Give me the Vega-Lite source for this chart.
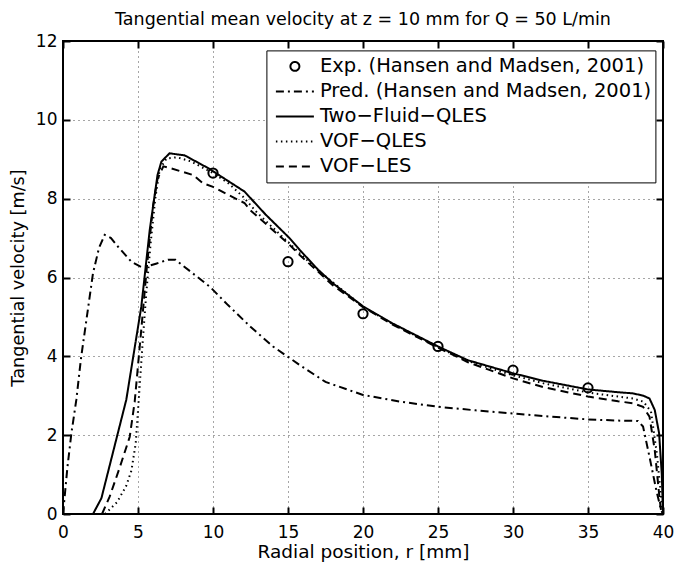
{
  "$schema": "https://vega.github.io/schema/vega-lite/v6.json",
  "width": 600,
  "height": 473,
  "autosize": {"type": "none"},
  "padding": {"left": 63, "top": 41, "right": 15, "bottom": 54},
  "background": "white",
  "config": {
    "font": "DejaVu Sans",
    "view": {"stroke": "black", "strokeWidth": 2},
    "axis": {"labelColor": "black", "titleColor": "black", "labelFont": "DejaVu Sans", "titleFont": "DejaVu Sans", "titleFontWeight": "normal", "ticks": true}
  },
  "title": {
    "text": "Tangential mean velocity at z = 10 mm for Q = 50 L/min",
    "fontSize": 17.5,
    "fontWeight": "normal",
    "color": "black",
    "anchor": "middle",
    "offset": 4
  },
  "datasets": {
    "curves": [
      {"series": "Pred. (Hansen and Madsen, 2001)", "r": 0, "v": 0},
      {"series": "Pred. (Hansen and Madsen, 2001)", "r": 0.15, "v": 0.6},
      {"series": "Pred. (Hansen and Madsen, 2001)", "r": 0.3, "v": 1.2},
      {"series": "Pred. (Hansen and Madsen, 2001)", "r": 0.56, "v": 2.05},
      {"series": "Pred. (Hansen and Madsen, 2001)", "r": 0.89, "v": 2.9},
      {"series": "Pred. (Hansen and Madsen, 2001)", "r": 1.2, "v": 3.95},
      {"series": "Pred. (Hansen and Madsen, 2001)", "r": 1.56, "v": 4.92},
      {"series": "Pred. (Hansen and Madsen, 2001)", "r": 2.0, "v": 6.11},
      {"series": "Pred. (Hansen and Madsen, 2001)", "r": 2.4, "v": 6.75},
      {"series": "Pred. (Hansen and Madsen, 2001)", "r": 2.78, "v": 7.08},
      {"series": "Pred. (Hansen and Madsen, 2001)", "r": 3.2, "v": 7.0},
      {"series": "Pred. (Hansen and Madsen, 2001)", "r": 3.67, "v": 6.78},
      {"series": "Pred. (Hansen and Madsen, 2001)", "r": 4.56, "v": 6.4},
      {"series": "Pred. (Hansen and Madsen, 2001)", "r": 5.2, "v": 6.27},
      {"series": "Pred. (Hansen and Madsen, 2001)", "r": 5.6, "v": 6.28},
      {"series": "Pred. (Hansen and Madsen, 2001)", "r": 6.2, "v": 6.35},
      {"series": "Pred. (Hansen and Madsen, 2001)", "r": 7.0, "v": 6.45},
      {"series": "Pred. (Hansen and Madsen, 2001)", "r": 7.5, "v": 6.45},
      {"series": "Pred. (Hansen and Madsen, 2001)", "r": 8.5, "v": 6.15},
      {"series": "Pred. (Hansen and Madsen, 2001)", "r": 9.78, "v": 5.77},
      {"series": "Pred. (Hansen and Madsen, 2001)", "r": 11, "v": 5.3},
      {"series": "Pred. (Hansen and Madsen, 2001)", "r": 12.5, "v": 4.75},
      {"series": "Pred. (Hansen and Madsen, 2001)", "r": 14, "v": 4.25},
      {"series": "Pred. (Hansen and Madsen, 2001)", "r": 15.78, "v": 3.78},
      {"series": "Pred. (Hansen and Madsen, 2001)", "r": 17.5, "v": 3.35},
      {"series": "Pred. (Hansen and Madsen, 2001)", "r": 20, "v": 3.02},
      {"series": "Pred. (Hansen and Madsen, 2001)", "r": 22.5, "v": 2.85},
      {"series": "Pred. (Hansen and Madsen, 2001)", "r": 25, "v": 2.72},
      {"series": "Pred. (Hansen and Madsen, 2001)", "r": 27.5, "v": 2.63},
      {"series": "Pred. (Hansen and Madsen, 2001)", "r": 30, "v": 2.55},
      {"series": "Pred. (Hansen and Madsen, 2001)", "r": 32.5, "v": 2.47},
      {"series": "Pred. (Hansen and Madsen, 2001)", "r": 35, "v": 2.4},
      {"series": "Pred. (Hansen and Madsen, 2001)", "r": 37, "v": 2.37},
      {"series": "Pred. (Hansen and Madsen, 2001)", "r": 38.33, "v": 2.36},
      {"series": "Pred. (Hansen and Madsen, 2001)", "r": 38.67, "v": 2.22},
      {"series": "Pred. (Hansen and Madsen, 2001)", "r": 39.1, "v": 1.45},
      {"series": "Pred. (Hansen and Madsen, 2001)", "r": 39.55, "v": 0.61},
      {"series": "Pred. (Hansen and Madsen, 2001)", "r": 39.87, "v": 0.1},
      {"series": "Pred. (Hansen and Madsen, 2001)", "r": 40, "v": 0},

      {"series": "Two−Fluid−QLES", "r": 2.0, "v": 0},
      {"series": "Two−Fluid−QLES", "r": 2.56, "v": 0.4},
      {"series": "Two−Fluid−QLES", "r": 4.22, "v": 2.9},
      {"series": "Two−Fluid−QLES", "r": 5.22, "v": 5.26},
      {"series": "Two−Fluid−QLES", "r": 5.78, "v": 7.2},
      {"series": "Two−Fluid−QLES", "r": 6.3, "v": 8.6},
      {"series": "Two−Fluid−QLES", "r": 6.56, "v": 8.94},
      {"series": "Two−Fluid−QLES", "r": 7.1, "v": 9.15},
      {"series": "Two−Fluid−QLES", "r": 8.1, "v": 9.1},
      {"series": "Two−Fluid−QLES", "r": 9.7, "v": 8.77},
      {"series": "Two−Fluid−QLES", "r": 12.1, "v": 8.18},
      {"series": "Two−Fluid−QLES", "r": 13.5, "v": 7.6},
      {"series": "Two−Fluid−QLES", "r": 15.1, "v": 7.0},
      {"series": "Two−Fluid−QLES", "r": 15.78, "v": 6.7},
      {"series": "Two−Fluid−QLES", "r": 17, "v": 6.2},
      {"series": "Two−Fluid−QLES", "r": 18, "v": 5.85},
      {"series": "Two−Fluid−QLES", "r": 20, "v": 5.27},
      {"series": "Two−Fluid−QLES", "r": 22, "v": 4.83},
      {"series": "Two−Fluid−QLES", "r": 25, "v": 4.25},
      {"series": "Two−Fluid−QLES", "r": 27, "v": 3.9},
      {"series": "Two−Fluid−QLES", "r": 30, "v": 3.57},
      {"series": "Two−Fluid−QLES", "r": 32, "v": 3.38},
      {"series": "Two−Fluid−QLES", "r": 35, "v": 3.16},
      {"series": "Two−Fluid−QLES", "r": 37, "v": 3.09},
      {"series": "Two−Fluid−QLES", "r": 38, "v": 3.06},
      {"series": "Two−Fluid−QLES", "r": 38.7, "v": 3.0},
      {"series": "Two−Fluid−QLES", "r": 39.1, "v": 2.93},
      {"series": "Two−Fluid−QLES", "r": 39.45, "v": 2.64},
      {"series": "Two−Fluid−QLES", "r": 39.74, "v": 2.05},
      {"series": "Two−Fluid−QLES", "r": 39.92, "v": 1.0},
      {"series": "Two−Fluid−QLES", "r": 40, "v": 0},

      {"series": "VOF−QLES", "r": 2.8, "v": 0},
      {"series": "VOF−QLES", "r": 3.6, "v": 0.3},
      {"series": "VOF−QLES", "r": 4.2, "v": 0.7},
      {"series": "VOF−QLES", "r": 4.56, "v": 1.1},
      {"series": "VOF−QLES", "r": 4.85, "v": 1.8},
      {"series": "VOF−QLES", "r": 5.05, "v": 2.9},
      {"series": "VOF−QLES", "r": 5.3, "v": 4.3},
      {"series": "VOF−QLES", "r": 5.55, "v": 5.6},
      {"series": "VOF−QLES", "r": 5.85, "v": 6.9},
      {"series": "VOF−QLES", "r": 6.15, "v": 8.0},
      {"series": "VOF−QLES", "r": 6.45, "v": 8.75},
      {"series": "VOF−QLES", "r": 6.9, "v": 9.02},
      {"series": "VOF−QLES", "r": 7.6, "v": 9.05},
      {"series": "VOF−QLES", "r": 8.5, "v": 8.95},
      {"series": "VOF−QLES", "r": 10, "v": 8.65},
      {"series": "VOF−QLES", "r": 11, "v": 8.4},
      {"series": "VOF−QLES", "r": 12, "v": 8.05},
      {"series": "VOF−QLES", "r": 13, "v": 7.62},
      {"series": "VOF−QLES", "r": 15, "v": 6.9},
      {"series": "VOF−QLES", "r": 17, "v": 6.18},
      {"series": "VOF−QLES", "r": 20, "v": 5.26},
      {"series": "VOF−QLES", "r": 22, "v": 4.82},
      {"series": "VOF−QLES", "r": 25, "v": 4.23},
      {"series": "VOF−QLES", "r": 27, "v": 3.88},
      {"series": "VOF−QLES", "r": 30, "v": 3.52},
      {"series": "VOF−QLES", "r": 32, "v": 3.32},
      {"series": "VOF−QLES", "r": 35, "v": 3.08},
      {"series": "VOF−QLES", "r": 37, "v": 2.98},
      {"series": "VOF−QLES", "r": 38, "v": 2.93},
      {"series": "VOF−QLES", "r": 38.7, "v": 2.85},
      {"series": "VOF−QLES", "r": 39.2, "v": 2.6},
      {"series": "VOF−QLES", "r": 39.6, "v": 1.5},
      {"series": "VOF−QLES", "r": 39.9, "v": 0.3},
      {"series": "VOF−QLES", "r": 40, "v": 0},

      {"series": "VOF−LES", "r": 2.6, "v": 0},
      {"series": "VOF−LES", "r": 3.11, "v": 0.44},
      {"series": "VOF−LES", "r": 3.8, "v": 1.2},
      {"series": "VOF−LES", "r": 4.45, "v": 1.96},
      {"series": "VOF−LES", "r": 4.78, "v": 2.85},
      {"series": "VOF−LES", "r": 5.2, "v": 4.6},
      {"series": "VOF−LES", "r": 5.6, "v": 6.3},
      {"series": "VOF−LES", "r": 6.0, "v": 7.8},
      {"series": "VOF−LES", "r": 6.3, "v": 8.5},
      {"series": "VOF−LES", "r": 6.69, "v": 8.82},
      {"series": "VOF−LES", "r": 7.1, "v": 8.78},
      {"series": "VOF−LES", "r": 8.67, "v": 8.6},
      {"series": "VOF−LES", "r": 9.33, "v": 8.39},
      {"series": "VOF−LES", "r": 10, "v": 8.3},
      {"series": "VOF−LES", "r": 11, "v": 8.1},
      {"series": "VOF−LES", "r": 12.1, "v": 7.89},
      {"series": "VOF−LES", "r": 12.45, "v": 7.72},
      {"series": "VOF−LES", "r": 14, "v": 7.2},
      {"series": "VOF−LES", "r": 15.1, "v": 6.83},
      {"series": "VOF−LES", "r": 15.78, "v": 6.57},
      {"series": "VOF−LES", "r": 17, "v": 6.15},
      {"series": "VOF−LES", "r": 18, "v": 5.8},
      {"series": "VOF−LES", "r": 20, "v": 5.25},
      {"series": "VOF−LES", "r": 22, "v": 4.8},
      {"series": "VOF−LES", "r": 25, "v": 4.22},
      {"series": "VOF−LES", "r": 27, "v": 3.85},
      {"series": "VOF−LES", "r": 30, "v": 3.44},
      {"series": "VOF−LES", "r": 32, "v": 3.22},
      {"series": "VOF−LES", "r": 35, "v": 2.98},
      {"series": "VOF−LES", "r": 37, "v": 2.86},
      {"series": "VOF−LES", "r": 38, "v": 2.81},
      {"series": "VOF−LES", "r": 38.67, "v": 2.72},
      {"series": "VOF−LES", "r": 39.1, "v": 2.47},
      {"series": "VOF−LES", "r": 39.45, "v": 1.62},
      {"series": "VOF−LES", "r": 39.78, "v": 0.36},
      {"series": "VOF−LES", "r": 39.9, "v": 0}
    ],
    "exp": [
      {"series": "Exp. (Hansen and Madsen, 2001)", "r": 10, "v": 8.65},
      {"series": "Exp. (Hansen and Madsen, 2001)", "r": 15, "v": 6.4},
      {"series": "Exp. (Hansen and Madsen, 2001)", "r": 20, "v": 5.08},
      {"series": "Exp. (Hansen and Madsen, 2001)", "r": 25, "v": 4.25},
      {"series": "Exp. (Hansen and Madsen, 2001)", "r": 30, "v": 3.65},
      {"series": "Exp. (Hansen and Madsen, 2001)", "r": 35, "v": 3.2}
    ]
  },
  "layer": [
    {
      "data": {"name": "curves"},
      "mark": {"type": "line", "color": "black", "strokeCap": "butt", "strokeJoin": "miter"},
      "encoding": {
        "x": {
          "field": "r", "type": "quantitative",
          "scale": {"domain": [0, 40], "nice": false, "zero": false},
          "axis": {
            "orient": "bottom", "values": [0, 5, 10, 15, 20, 25, 30, 35, 40],
            "domain": false, "tickSize": -7, "tickColor": "black", "tickWidth": 2,
            "labelPadding": 17, "labelFontSize": 17, "labelFlush": false,
            "grid": true, "gridDash": [1, 4], "gridColor": "black", "gridOpacity": 0.7, "gridWidth": 1,
            "title": "Radial position, r [mm]", "titleFontSize": 18.5, "titlePadding": 2
          }
        },
        "y": {
          "field": "v", "type": "quantitative",
          "scale": {"domain": [0, 12], "nice": false, "zero": false},
          "axis": {
            "orient": "left", "values": [0, 2, 4, 6, 8, 10, 12],
            "domain": false, "tickSize": -7, "tickColor": "black", "tickWidth": 2,
            "labelPadding": 13, "labelFontSize": 17, "labelFlush": false,
            "grid": true, "gridDash": [1, 4], "gridColor": "black", "gridOpacity": 0.7, "gridWidth": 1,
            "title": "Tangential velocity [m/s]", "titleFontSize": 17.7, "titlePadding": 8
          }
        },
        "strokeDash": {
          "field": "series", "type": "nominal",
          "scale": {
            "domain": ["Exp. (Hansen and Madsen, 2001)", "Pred. (Hansen and Madsen, 2001)", "Two−Fluid−QLES", "VOF−QLES", "VOF−LES"],
            "range": [[1, 0], [8, 4, 2, 4], [1, 0], [1.5, 3.5], [8, 5]]
          },
          "legend": {
            "title": null, "orient": "none", "legendX": 203.4, "legendY": 9.4,
            "padding": 3.5, "rowPadding": 0, "clipHeight": 25,
            "strokeColor": "black", "fillColor": "white", "cornerRadius": 0,
            "symbolType": "stroke", "symbolSize": 1444, "symbolStrokeWidth": 2, "symbolStrokeColor": "black",
            "symbolOffset": 5, "labelOffset": 5,
            "labelFont": "DejaVu Sans", "labelFontSize": 19.5, "labelColor": "black", "labelLimit": 500,
            "encode": {
              "symbols": {
                "update": {
                  "shape": {"signal": "datum.value === 'Exp. (Hansen and Madsen, 2001)' ? 'circle' : 'stroke'"},
                  "size": {"signal": "datum.value === 'Exp. (Hansen and Madsen, 2001)' ? 80 : 1444"},
                  "strokeWidth": {"signal": "datum.value === 'VOF−QLES' ? 1.2 : 2"},
                  "fill": {"value": "transparent"},
                  "stroke": {"value": "black"}
                }
              }
            }
          }
        },
        "strokeWidth": {
          "field": "series", "type": "nominal",
          "scale": {
            "domain": ["Exp. (Hansen and Madsen, 2001)", "Pred. (Hansen and Madsen, 2001)", "Two−Fluid−QLES", "VOF−QLES", "VOF−LES"],
            "range": [2, 2, 2, 1.3, 2]
          },
          "legend": null
        }
      }
    },
    {
      "data": {"name": "exp"},
      "mark": {"type": "point", "shape": "circle", "color": "black", "size": 85, "strokeWidth": 2, "filled": false, "opacity": 1},
      "encoding": {
        "x": {
          "field": "r", "type": "quantitative",
          "scale": {"domain": [0, 40], "nice": false, "zero": false},
          "axis": {"orient": "top", "values": [0, 5, 10, 15, 20, 25, 30, 35, 40], "domain": false, "tickSize": -7, "tickColor": "black", "tickWidth": 2, "labels": false, "grid": false, "title": null}
        },
        "y": {
          "field": "v", "type": "quantitative",
          "scale": {"domain": [0, 12], "nice": false, "zero": false},
          "axis": {"orient": "right", "values": [0, 2, 4, 6, 8, 10, 12], "domain": false, "tickSize": -7, "tickColor": "black", "tickWidth": 2, "labels": false, "grid": false, "title": null}
        }
      }
    }
  ],
  "resolve": {"axis": {"x": "independent", "y": "independent"}}
}
